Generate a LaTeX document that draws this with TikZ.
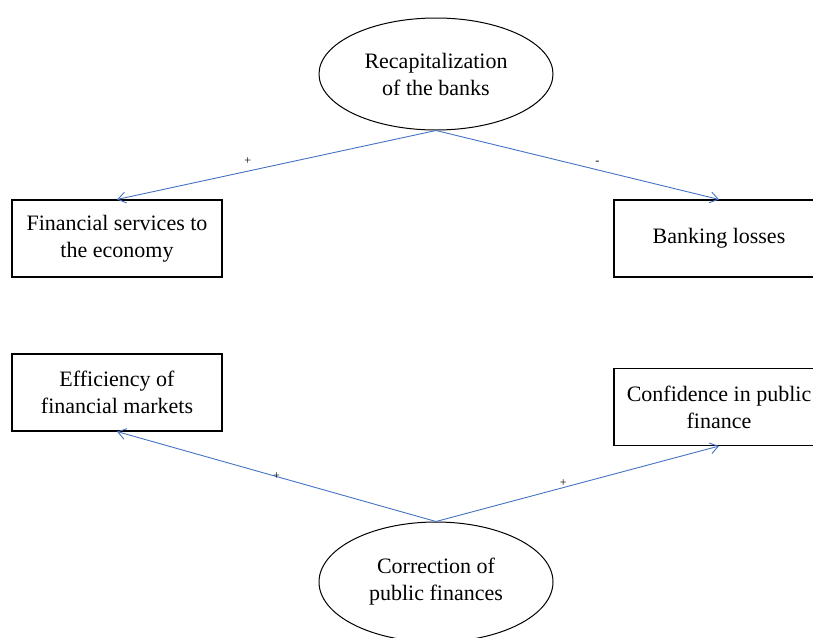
\documentclass[tikz,border=0pt]{standalone}
\usepackage{fontspec}
\setmainfont{Liberation Serif}
\usetikzlibrary{shapes.geometric,arrows.meta}
\definecolor{pfeilblau}{HTML}{4472C4}
\tikzset{
    kasten/.style={draw, line width=1.1pt, minimum width=210pt, minimum height=77pt,
        align=center, font=\fontsize{22}{27}\selectfont, inner sep=2pt},
    oval/.style={draw, ellipse, line width=1pt, minimum width=234pt, minimum height=112pt,
        align=center, font=\fontsize{22}{27}\selectfont, inner sep=0pt},
    pfeil/.style={pfeilblau, line width=0.9pt, -{Straight Barb[length=8pt,width=11pt]}},
    zeichen/.style={text=black, font=\fontsize{12}{12}\selectfont, inner sep=1pt}
}
\begin{document}
\begin{tikzpicture}[x=1pt,y=-1pt]
    \clip (0,0) rectangle (813,637);

    % Knoten
    \node[oval] (recap) at (436,74) {Recapitalization\\of the banks};
    \node[kasten] (dienst) at (117,238.5) {Financial services to\\the economy};
    \node[kasten] (verlust) at (719,238.5) {Banking losses};
    \node[kasten] (effiz) at (117,392.5) {Efficiency of\\financial markets};
    \node[kasten] (vertrauen) at (719,407) {Confidence in public\\finance};
    \node[oval, minimum height=120pt] (korrektur) at (436,582) {Correction of\\public finances};

    % Pfeile
    \draw[pfeil] (recap.south) -- node[zeichen, pos=0.59, above=5pt] {+} (dienst.north);
    \draw[pfeil] (recap.south) -- node[zeichen, pos=0.57, above=4pt] {-} (verlust.north);
    \draw[pfeil] (korrektur.north) -- node[zeichen, pos=0.5] {+} (effiz.south);
    \draw[pfeil] (korrektur.north) -- node[zeichen, pos=0.45, above=0pt] {+} (vertrauen.south);
\end{tikzpicture}
\end{document}
